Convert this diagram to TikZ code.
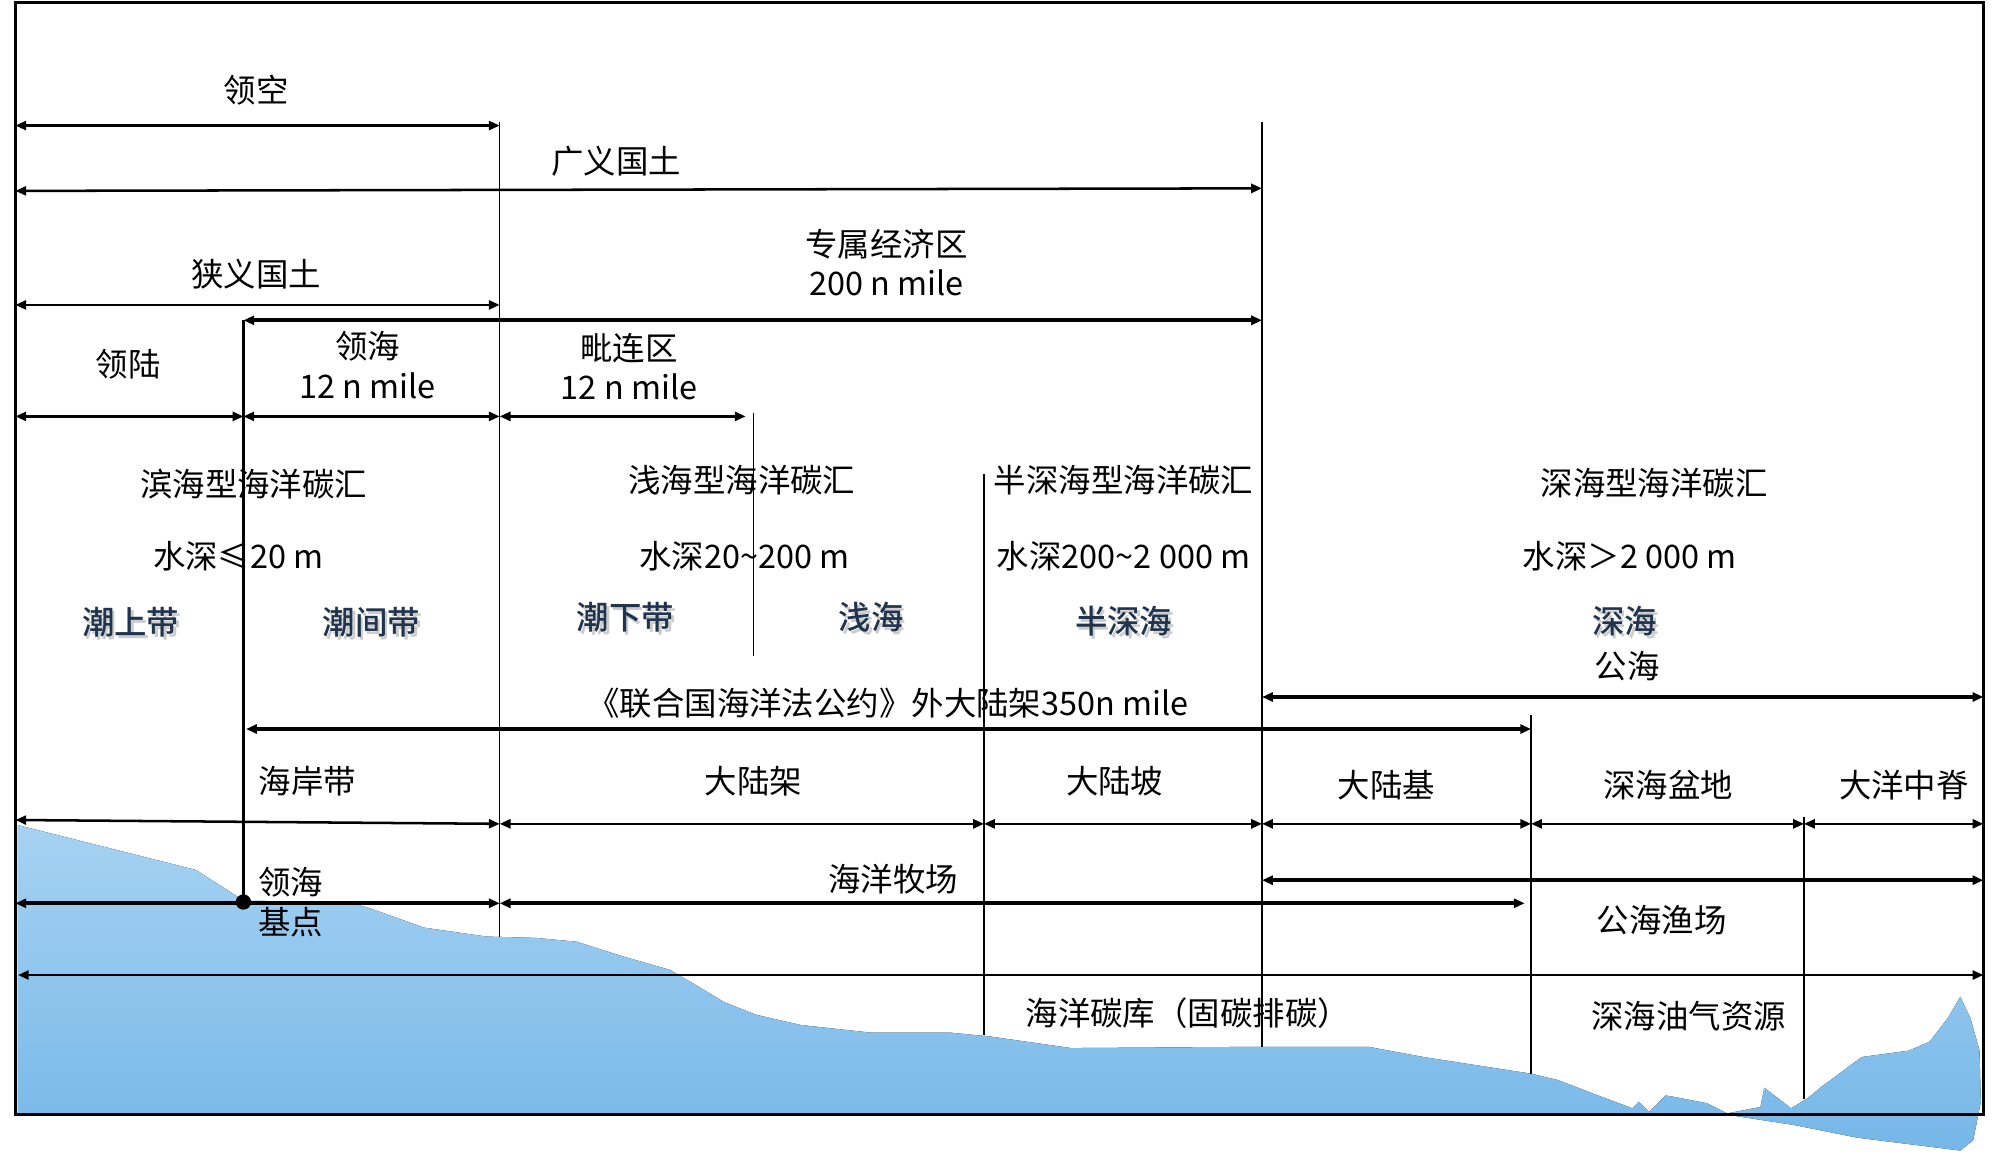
\documentclass[tikz,border=0pt]{standalone}
\usepackage{fontspec}
\newfontfamily\cjk{Noto Sans CJK SC}
\newfontfamily\cjkmed{Noto Sans CJK SC Medium}
\usetikzlibrary{arrows.meta}
\definecolor{seatop}{RGB}{166,210,242}
\definecolor{seabot}{RGB}{118,183,232}
\definecolor{zonetxt}{RGB}{32,52,78}
\tikzset{every node/.style={font=\cjk\fontsize{18pt}{22pt}\selectfont, inner sep=0pt, align=center},
  dim/.style={{Triangle[length=6pt,width=5pt]}-{Triangle[length=6pt,width=5pt]}, line width=1.4pt},
  dimb/.style={dim, line width=2.1pt},
  sep/.style={line width=0.7pt},
  zone/.style={text=zonetxt, font=\cjkmed\fontsize{18pt}{22pt}\selectfont},
  zoneshadow/.style={zone, text=black!50, opacity=0.4}}
\newcommand\zonelabel[4]{\node[zoneshadow] at (#2+2,#3+2) {#4}; \node[zone] (#1) at (#2,#3) {#4};}

\begin{document}
\begin{tikzpicture}[x=0.025cm,y=-0.025cm]
  \useasboundingbox (0,0) rectangle (1568,900);
  % sea floor profile
  \fill[top color=seatop, bottom color=seabot]
    (14,644) -- (153,679) -- (181,697) -- (190,703) -- (272,704) -- (289,709) -- (331,724) --
    (380,731) -- (418,732) -- (450,735) -- (488,747) -- (523,757) -- (545,770) -- (565,782) --
    (590,792) -- (625,800) -- (680,806) -- (742,806) -- (773,809) -- (836,818) -- (984,817) --
    (1068,817) -- (1111,825) -- (1195,838) -- (1216,843) -- (1242,853) -- (1274,865) -- (1279,860) --
    (1287,868) -- (1300,855) -- (1306,856) -- (1332,861) -- (1348,869) -- (1374,864) -- (1377,849) --
    (1398,865) -- (1411,857) -- (1422,848) -- (1453,825) -- (1490,820) -- (1506,813) -- (1520,795) --
    (1530,778) -- (1538,795) -- (1545,820) -- (1546,860) -- (1540,890) -- (1530,898) -- (1450,888) --
    (1400,878) -- (1348,870) -- (14,870) -- cycle;
  \draw[line width=1.5pt] (12,2) rectangle (1548,870);
  % dividing lines
  \draw[sep] (390,95) -- (390,731);
  \draw[sep] (985,95) -- (985,817);
  \draw[sep] (588,322) -- (588,512);
  \draw[sep] (768,370) -- (768,808);
  \draw[sep] (1195,558) -- (1195,838);
  \draw[sep] (1408,638) -- (1408,858);
  \draw[line width=1.8pt] (190,250) -- (190,704);
  % spans
  \draw[dim] (12,98) -- (390,98);
  \draw[dim] (12,149) -- (985,147);
  \draw[dim] (12,238) -- (390,238);
  \draw[dimb] (190,250) -- (985,250);
  \draw[dim] (12,325) -- (190,325);
  \draw[dim] (190,325) -- (390,325);
  \draw[dim] (390,325) -- (582,325);
  \draw[dimb] (985,544) -- (1548,544);
  \draw[dimb] (192,569) -- (1195,569);
  \draw[dim] (12,640) -- (390,643);
  \draw[dim] (390,643) -- (768,643);
  \draw[dim] (768,643) -- (985,643);
  \draw[dim] (985,643) -- (1195,643);
  \draw[dim] (1195,643) -- (1408,643);
  \draw[dim] (1408,643) -- (1548,643);
  \draw[dimb] (985,687) -- (1548,687);
  \draw[dimb] (12,705) -- (390,705);
  \draw[dimb] (390,705) -- (1190,705);
  \draw[dim] (14,761) -- (1548,761);
  \node[circle, fill, minimum size=8.5pt] (basept) at (190,704) {};
  % labels
  \node (lingkong) at (200,70) {领空};
  \node (guangyi) at (481,126) {广义国土};
  \node (zhuanshu) at (692,205) {专属经济区\\200 n mile};
  \node (xiayi) at (200,214) {狭义国土};
  \node (linglu) at (100,284) {领陆};
  \node (linghai) at (287,285) {领海\\12 n mile};
  \node (pilian) at (491,286) {毗连区\\12 n mile};
  \node (binhai) at (198,378) {滨海型海洋碳汇};
  \node (qianhai) at (579,375) {浅海型海洋碳汇};
  \node (banshen) at (877,375) {半深海型海洋碳汇};
  \node (shenhai) at (1291,377) {深海型海洋碳汇};
  \node (depth1) at (186,434) {水深≤20 m};
  \node (depth2) at (581,434) {水深20\textasciitilde200 m};
  \node (depth3) at (877,434) {水深200\textasciitilde2 000 m};
  \node (depth4) at (1272,434) {水深＞2 000 m};
  \zonelabel{chaoshang}{102}{486}{潮上带}
  \zonelabel{chaojian}{290}{486}{潮间带}
  \zonelabel{chaoxia}{488}{482}{潮下带}
  \zonelabel{qian}{680}{482}{浅海}
  \zonelabel{banshenz}{877}{485}{半深海}
  \zonelabel{shen}{1268}{485}{深海}
  \node (gonghai) at (1270,520) {公海};
  \node (waidalu) at (693,549) {《联合国海洋法公约》外大陆架350n mile};
  \node (haian) at (240,610) {海岸带};
  \node (dalujia) at (588,610) {大陆架};
  \node (dalupo) at (870,610) {大陆坡};
  \node (daluji) at (1082,613) {大陆基};
  \node (pendi) at (1302,613) {深海盆地};
  \node (zhongji) at (1486,613) {大洋中脊};
  \node (jidian) at (227,704) {领海\\基点};
  \node (muchang) at (697,686) {海洋牧场};
  \node (yuchang) at (1297,718) {公海渔场};
  \node (tanku) at (927,791) {海洋碳库（固碳排碳）};
  \node (youqi) at (1318,793) {深海油气资源};
\end{tikzpicture}
\end{document}
